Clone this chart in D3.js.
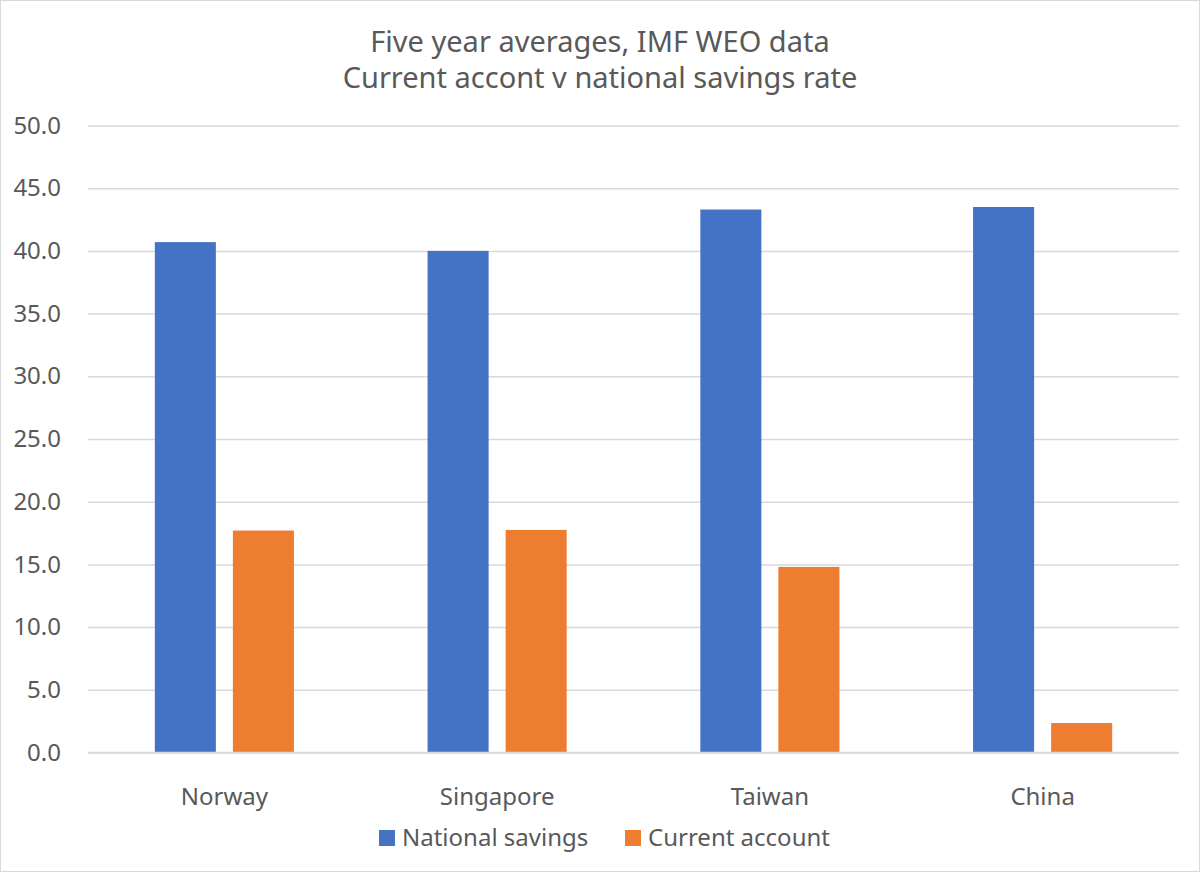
<!DOCTYPE html>
<html>
<head>
<meta charset="utf-8">
<script src="https://cdn.jsdelivr.net/npm/d3@7"></script>
<style>
  html, body { margin: 0; padding: 0; background: #fff; }
  svg { display: block; font-family: "Noto Sans", "Open Sans", sans-serif; }
  .grid line { stroke: #d9d9d9; stroke-width: 1.5; }
  .tick text { fill: #595959; }
</style>
</head>
<body>
<svg id="chart" width="1200" height="872"></svg>
<script>
// data
const countries = ['Norway', 'Singapore', 'Taiwan', 'China']
const seriesNames = ['National savings', 'Current account']
const nationalSavings = [40.7, 40.0, 43.3, 43.5]
const currentAccount = [17.7, 17.75, 14.8, 2.35]
const yTicks = [0, 5, 10, 15, 20, 25, 30, 35, 40, 45, 50]
const titleLines = ['Five year averages, IMF WEO data', 'Current accont v national savings rate']

const colors = { 'National savings': '#4472c4', 'Current account': '#ed7d31' }

const width = 1200
const height = 872
const margin = { top: 125.5, right: 21, bottom: 119.5, left: 88 }

const svg = d3.select('#chart')

// outer chart border
svg.append('rect')
    .attr('x', 0.5).attr('y', 0.5)
    .attr('width', width - 1).attr('height', height - 1)
    .attr('fill', '#fff')
    .attr('stroke', '#d9d9d9')

// title
svg.append('g')
    .selectAll('text')
    .data(titleLines)
    .join('text')
    .attr('x', width / 2)
    .attr('y', (d, i) => 52 + i * 36)
    .attr('text-anchor', 'middle')
    .attr('font-size', 29)
    .attr('fill', '#595959')
    .text(d => d)

const x = d3.scaleBand()
    .domain(countries)
    .range([margin.left, width - margin.right])
    .paddingInner(0.49)
    .paddingOuter(0.245)

const xSeries = d3.scaleBand()
    .domain(seriesNames)
    .range([0, x.bandwidth()])
    .paddingInner(0.218)

const y = d3.scaleLinear()
    .domain([0, 50])
    .range([height - margin.bottom, margin.top])

// gridlines + y labels
const yAxis = svg.append('g')
    .attr('class', 'grid')
    .attr('transform', `translate(${margin.left},0)`)
    .call(d3.axisLeft(y)
        .tickValues(yTicks)
        .tickFormat(d3.format('.1f'))
        .tickSize(-(width - margin.left - margin.right))
        .tickPadding(27))

yAxis.select('.domain').remove()
yAxis.selectAll('.tick text')
    .attr('font-size', 24)
    .attr('font-family', '"Noto Sans", sans-serif')

// bars
const rows = countries.map((c, i) => ({
    country: c,
    values: [
        { series: seriesNames[0], value: nationalSavings[i] },
        { series: seriesNames[1], value: currentAccount[i] }
    ]
}))

const groups = svg.append('g')
    .selectAll('g')
    .data(rows)
    .join('g')
    .attr('transform', d => `translate(${x(d.country)},0)`)

groups.selectAll('rect')
    .data(d => d.values)
    .join('rect')
    .attr('x', d => xSeries(d.series))
    .attr('y', d => y(d.value))
    .attr('width', xSeries.bandwidth())
    .attr('height', d => y(0) - y(d.value))
    .attr('fill', d => colors[d.series])

// baseline drawn over the bars
svg.append('line')
    .attr('x1', margin.left).attr('x2', width - margin.right)
    .attr('y1', y(0)).attr('y2', y(0))
    .attr('stroke', '#d9d9d9')
    .attr('stroke-width', 1.5)

// category axis
const xAxis = svg.append('g')
    .attr('transform', `translate(0,${y(0)})`)
    .call(d3.axisBottom(x).tickSize(0).tickPadding(35))

xAxis.select('.domain').remove()
xAxis.selectAll('.tick text')
    .attr('font-size', 24)
    .attr('font-family', '"Noto Sans", sans-serif')

// legend
const legendX = [379, 625]
const legend = svg.append('g')
    .selectAll('g')
    .data(seriesNames)
    .join('g')
    .attr('transform', (d, i) => `translate(${legendX[i]},830)`)

legend.append('rect')
    .attr('width', 16).attr('height', 16)
    .attr('fill', d => colors[d])

legend.append('text')
    .attr('x', 23)
    .attr('y', 16)
    .attr('font-size', 24)
    .attr('fill', '#595959')
    .text(d => d)
</script>
</body>
</html>
